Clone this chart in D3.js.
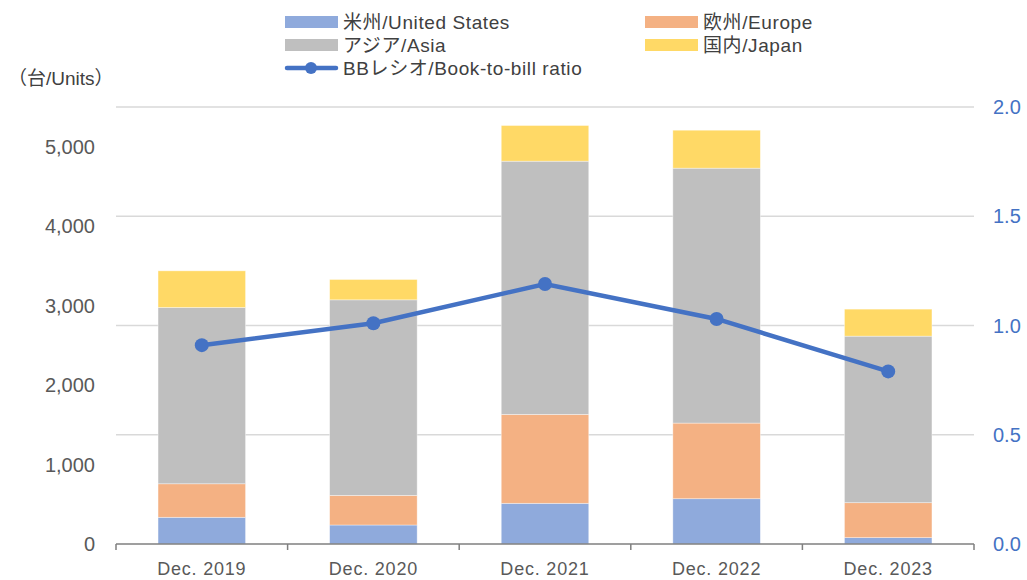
<!DOCTYPE html>
<html>
<head>
<meta charset="utf-8">
<script src="https://cdn.jsdelivr.net/npm/d3@7"></script>
<style>
  body { margin: 0; background: #fff; }
  text { font-family: "Liberation Sans", "Noto Sans CJK JP", sans-serif; }
</style>
</head>
<body>
<svg width="1027" height="580"></svg>
<script>
var categories = ["Dec. 2019", "Dec. 2020", "Dec. 2021", "Dec. 2022", "Dec. 2023"];
var seriesNames = ["米州/United States", "欧州/Europe", "アジア/Asia", "国内/Japan"];
var usUnits = [336, 239, 512, 570, 80];
var europeUnits = [422, 373, 1119, 952, 440];
var asiaUnits = [2219, 2461, 3187, 3208, 2096];
var japanUnits = [461, 256, 449, 478, 340];
var bbRatio = [0.91, 1.01, 1.19, 1.03, 0.79];
var leftTicks = [0, 1000, 2000, 3000, 4000, 5000];
var rightTicks = [0, 0.5, 1.0, 1.5, 2.0];

var colors = ["#8FAADC", "#F4B183", "#BFBFBF", "#FFD966"];
var lineColor = "#4472C4";

var svg = d3.select("svg");
var plotLeft = 116, plotRight = 974, plotTop = 107, plotBottom = 544;

var x = d3.scaleBand().domain(categories).range([plotLeft, plotRight]).paddingInner(0.49).paddingOuter(0.245);
var xBand = d3.scaleBand().domain(categories).range([plotLeft, plotRight]);
var yL = d3.scaleLinear().domain([0, 5500]).range([plotBottom, plotTop]);
var yR = d3.scaleLinear().domain([0, 2]).range([plotBottom, plotTop]);

// rows for stacking
var rows = categories.map(function (c, i) {
    return { cat: c, us: usUnits[i], eu: europeUnits[i], asia: asiaUnits[i], jp: japanUnits[i] };
});
var stack = d3.stack().keys(["us", "eu", "asia", "jp"]);
var layers = stack(rows);

// gridlines (from right axis)
svg.append("g").selectAll("line").data(rightTicks.filter(function (d) { return d > 0; }))
    .enter().append("line")
    .attr("x1", plotLeft).attr("x2", plotRight)
    .attr("y1", function (d) { return yR(d); }).attr("y2", function (d) { return yR(d); })
    .style("stroke", "#D9D9D9").style("stroke-width", 1.5);

// bars
svg.append("g").selectAll("g").data(layers).enter().append("g")
    .style("fill", function (d, i) { return colors[i]; })
    .selectAll("rect").data(function (d) { return d; }).enter().append("rect")
    .attr("x", function (d) { return x(d.data.cat); })
    .attr("width", x.bandwidth())
    .attr("y", function (d) { return yL(d[1]); })
    .attr("height", function (d) { return yL(d[0]) - yL(d[1]); })
    .style("stroke", "#ffffff").style("stroke-opacity", 0.5).style("stroke-width", 0.75);

// baseline and category ticks
svg.append("line").attr("x1", plotLeft).attr("x2", plotRight).attr("y1", plotBottom).attr("y2", plotBottom)
    .style("stroke", "#7F7F7F").style("stroke-width", 1.5);
var bounds = categories.map(function (c) { return xBand(c); }).concat([plotRight]);
svg.append("g").selectAll("line").data(bounds).enter().append("line")
    .attr("x1", function (d) { return d; }).attr("x2", function (d) { return d; })
    .attr("y1", plotBottom).attr("y2", plotBottom + 6)
    .style("stroke", "#7F7F7F").style("stroke-width", 1.5);

// x labels
svg.append("g").selectAll("text").data(categories).enter().append("text")
    .attr("x", function (d) { return x(d) + x.bandwidth() / 2; })
    .attr("y", 575)
    .attr("text-anchor", "middle")
    .style("font-size", "18px").style("letter-spacing", "0.8px").style("fill", "#595959")
    .text(function (d) { return d; });

// left axis labels
svg.append("g").selectAll("text").data(leftTicks).enter().append("text")
    .attr("x", 95).attr("y", function (d) { return yL(d); })
    .attr("dy", "0.35em").attr("text-anchor", "end")
    .style("font-size", "20px").style("fill", "#595959")
    .text(function (d) { return d3.format(",")(d); });

// right axis labels
svg.append("g").selectAll("text").data(rightTicks).enter().append("text")
    .attr("x", 993).attr("y", function (d) { return yR(d); })
    .attr("dy", "0.35em")
    .style("font-size", "20px").style("fill", lineColor)
    .text(function (d) { return d3.format(".1f")(d); });

// units label
svg.append("text").attr("x", 8).attr("y", 78).attr("dy", "0.35em")
    .style("font-size", "19px").style("fill", "#404040")
    .text("（台/Units）");

// BB ratio line
var line = d3.line()
    .x(function (d, i) { return x(categories[i]) + x.bandwidth() / 2; })
    .y(function (d) { return yR(d); });
svg.append("path").datum(bbRatio).attr("d", line)
    .style("fill", "none").style("stroke", lineColor).style("stroke-width", 4.5);
svg.append("g").selectAll("circle").data(bbRatio).enter().append("circle")
    .attr("cx", function (d, i) { return x(categories[i]) + x.bandwidth() / 2; })
    .attr("cy", function (d) { return yR(d); })
    .attr("r", 7).style("fill", lineColor);

// legend
var legendPos = [[285, 22], [645, 22], [285, 45], [645, 45]];
var lg = svg.append("g");
seriesNames.forEach(function (name, i) {
    lg.append("rect").attr("x", legendPos[i][0]).attr("y", legendPos[i][1] - 6)
        .attr("width", 53).attr("height", 12).style("fill", colors[i]);
    lg.append("text").attr("x", legendPos[i][0] + 58).attr("y", legendPos[i][1])
        .attr("dy", "0.35em").style("font-size", "19px").style("letter-spacing", "0.6px").style("fill", "#404040")
        .text(name);
});
lg.append("line").attr("x1", 287).attr("x2", 336).attr("y1", 68).attr("y2", 68)
    .style("stroke", lineColor).style("stroke-width", 4.5).style("stroke-linecap", "round");
lg.append("circle").attr("cx", 311).attr("cy", 68).attr("r", 6).style("fill", lineColor);
lg.append("text").attr("x", 343).attr("y", 68).attr("dy", "0.35em")
    .style("font-size", "19px").style("letter-spacing", "0.6px").style("fill", "#404040")
    .text("BBレシオ/Book-to-bill ratio");
</script>
</body>
</html>
